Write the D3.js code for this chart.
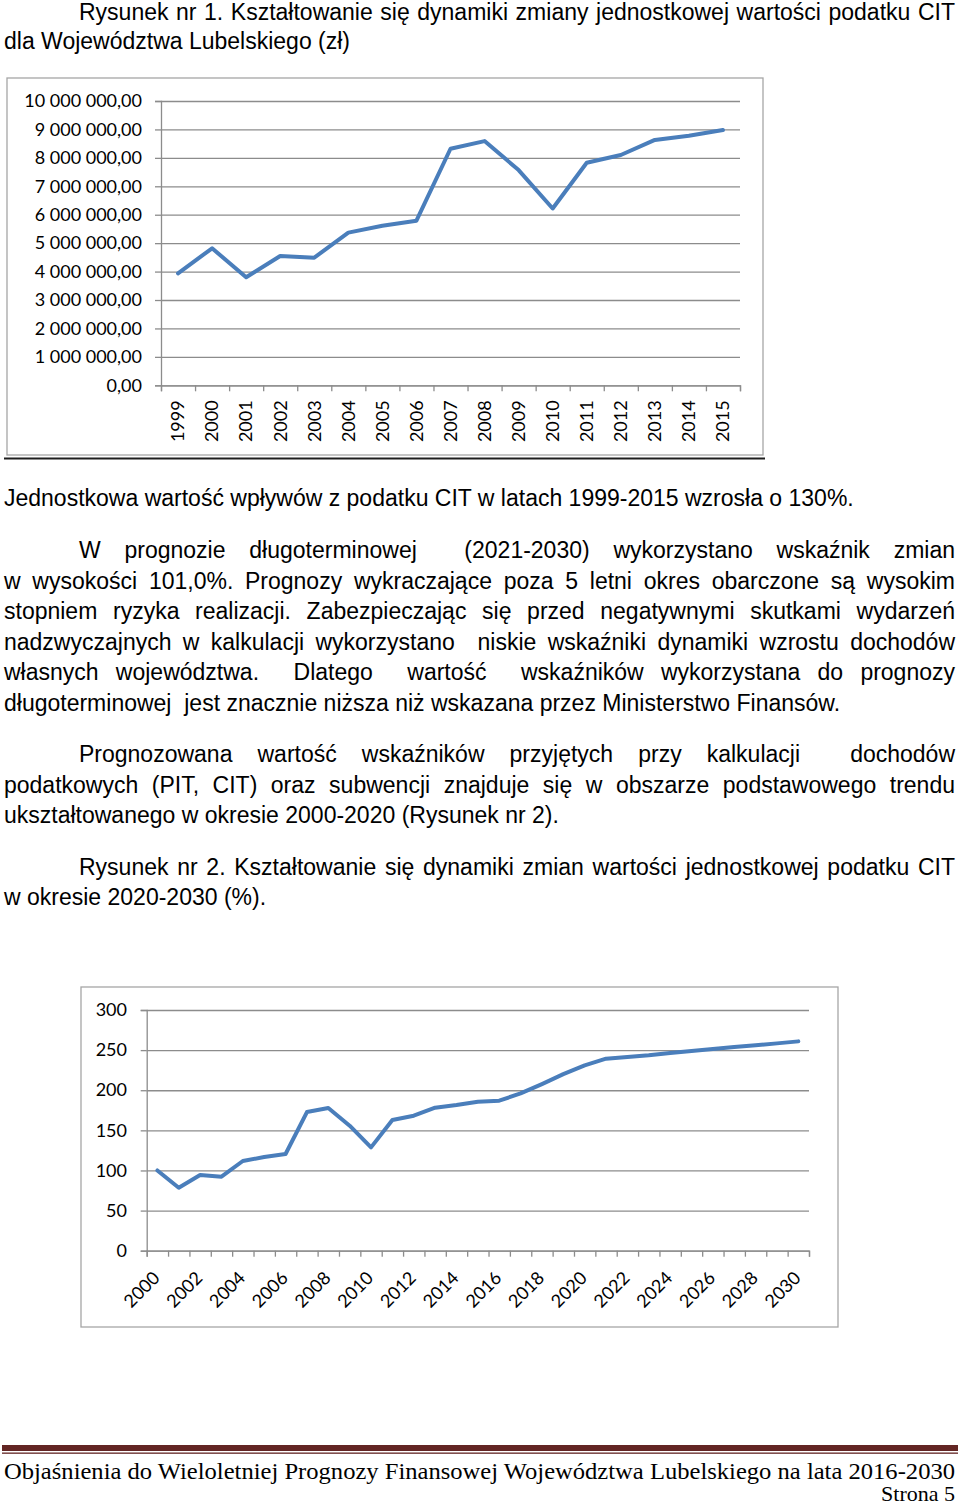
<!DOCTYPE html>
<html>
<head>
<meta charset="utf-8">
<script src="https://cdn.jsdelivr.net/npm/d3@7"></script>
<style>
    body { margin: 0; background: #fff; }
    .body-text { font-family: "Liberation Sans", Arial, sans-serif; font-size: 23px; fill: #000; }
    .axis-label { font-family: Lato, "Open Sans", sans-serif; fill: #000; }
</style>
</head>
<body>
<div id="page"></div>
<script>
// Rysunek nr 1 - jednostkowa wartosc podatku CIT (zl)
var cit1Years = ["1999", "2000", "2001", "2002", "2003", "2004", "2005", "2006", "2007",
    "2008", "2009", "2010", "2011", "2012", "2013", "2014", "2015"];
var cit1Values = [3940000, 4820000, 3800000, 4550000, 4490000, 5370000, 5610000, 5790000, 8320000,
    8590000, 7570000, 6220000, 7830000, 8100000, 8630000, 8780000, 8980000];
var cit1Ticks = [0, 1000000, 2000000, 3000000, 4000000, 5000000, 6000000, 7000000, 8000000, 9000000, 10000000];

// Rysunek nr 2 - dynamika (%)
var dynYears = ["2000", "2001", "2002", "2003", "2004", "2005", "2006", "2007", "2008", "2009",
    "2010", "2011", "2012", "2013", "2014", "2015", "2016", "2017", "2018", "2019", "2020",
    "2021", "2022", "2023", "2024", "2025", "2026", "2027", "2028", "2029", "2030"];
var dynValues = [100, 78.5, 94.3, 92.2, 111.8, 116.7, 120.5, 172.8, 177.8, 155.8,
    128.8, 162.9, 168.3, 178.2, 181.6, 185.7, 187, 196, 207.7, 220, 231,
    239.3, 241.4, 243.5, 246.4, 248.9, 251.4, 253.8, 256, 258.4, 260.9];
var dynTicks = [0, 50, 100, 150, 200, 250, 300];
var dynLabelYears = ["2000", "2002", "2004", "2006", "2008", "2010", "2012", "2014", "2016",
    "2018", "2020", "2022", "2024", "2026", "2028", "2030"];

// text of the page, one entry per printed line: [text, indent, justified, baseline]
var textLines = [
    ["Rysunek nr 1. Kształtowanie się dynamiki zmiany jednostkowej wartości podatku CIT", true, true, 20],
    ["dla Województwa Lubelskiego (zł)", false, false, 49],
    ["Jednostkowa wartość wpływów z podatku CIT w latach 1999-2015 wzrosła o 130%.", false, false, 506],
    ["W prognozie długoterminowej  (2021-2030) wykorzystano wskaźnik zmian", true, true, 558],
    ["w wysokości 101,0%. Prognozy wykraczające poza 5 letni okres obarczone są wysokim", false, true, 589],
    ["stopniem ryzyka realizacji. Zabezpieczając się przed negatywnymi skutkami wydarzeń", false, true, 619],
    ["nadzwyczajnych w kalkulacji wykorzystano  niskie wskaźniki dynamiki wzrostu dochodów", false, true, 650],
    ["własnych województwa.  Dlatego  wartość  wskaźników wykorzystana do prognozy", false, true, 680],
    ["długoterminowej  jest znacznie niższa niż wskazana przez Ministerstwo Finansów.", false, false, 711],
    ["Prognozowana wartość wskaźników przyjętych przy kalkulacji  dochodów", true, true, 762],
    ["podatkowych (PIT, CIT) oraz subwencji znajduje się w obszarze podstawowego trendu", false, true, 793],
    ["ukształtowanego w okresie 2000-2020 (Rysunek nr 2).", false, false, 823],
    ["Rysunek nr 2. Kształtowanie się dynamiki zmian wartości jednostkowej podatku CIT", true, true, 875],
    ["w okresie 2020-2030 (%).", false, false, 905]
];
var footerTitle = "Objaśnienia do Wieloletniej Prognozy Finansowej Województwa Lubelskiego na lata 2016-2030";
var footerPage = "Strona 5";

var svgWidth = 960;
var svgHeight = 1507;
var lineColor = "#4a7ebb";
var gridColor = "#8c8c8c";

var svg = d3.select("#page")
    .append("svg")
    .attr("width", svgWidth)
    .attr("height", svgHeight);

svg.append("rect")
    .attr("width", svgWidth)
    .attr("height", svgHeight)
    .attr("fill", "#fff");

// Step 1: page text (justified lines are spread word by word)
// ==============================
var textGroup = svg.append("g").attr("class", "body-text");

function drawLine(str, indent, justify, y) {
    var x0 = indent ? 79 : 4;
    var x1 = 955;
    if (!justify) {
        textGroup.append("text")
            .attr("x", x0)
            .attr("y", y)
            .attr("xml:space", "preserve")
            .style("white-space", "pre")
            .text(str);
        return;
    }
    var tokens = str.split(" ");
    var measure = textGroup.append("text");
    var widths = tokens.map(function (t) {
        if (!t) return 0;
        measure.text(t);
        return measure.node().getComputedTextLength();
    });
    measure.remove();
    var gap = (x1 - x0 - d3.sum(widths)) / (tokens.length - 1);
    var line = textGroup.append("text").attr("y", y);
    var cx = x0;
    tokens.forEach(function (t, i) {
        if (t) line.append("tspan").attr("x", cx).text(t);
        cx += widths[i] + gap;
    });
}

textLines.forEach(function (d) {
    drawLine(d[0], d[1], d[2], d[3]);
});

// Step 2: generic line chart (Excel look)
// ==============================
function makeChart(opts) {
    var g = svg.append("g");

    // chart frame
    g.append("rect")
        .attr("x", opts.frame[0])
        .attr("y", opts.frame[1])
        .attr("width", opts.frame[2])
        .attr("height", opts.frame[3])
        .attr("fill", "#fff")
        .attr("stroke", "#a6a6a6")
        .attr("stroke-width", 1.3);

    var xScale = d3.scaleBand()
        .domain(opts.years)
        .range([opts.left, opts.right]);

    // boundaries of categories, for tick marks
    var xEdges = d3.scaleLinear()
        .domain([0, opts.years.length])
        .range([opts.left, opts.right]);

    var yScale = d3.scaleLinear()
        .domain([0, opts.ticks[opts.ticks.length - 1]])
        .range([opts.bottom, opts.top]);

    // gridlines
    var grid = g.append("g")
        .attr("transform", `translate(${opts.left}, 0)`)
        .call(d3.axisLeft(yScale)
            .tickValues(opts.ticks)
            .tickSize(-(opts.right - opts.left))
            .tickFormat(""));
    grid.select(".domain").remove();
    grid.selectAll("line").attr("stroke", gridColor).attr("stroke-width", 1.3);

    // y axis with labels
    var yAxis = g.append("g")
        .attr("transform", `translate(${opts.left}, 0)`)
        .call(d3.axisLeft(yScale)
            .tickValues(opts.ticks)
            .tickSize(6)
            .tickPadding(opts.yPad)
            .tickFormat(opts.yFormat));
    yAxis.select(".domain").attr("stroke", gridColor).attr("stroke-width", 1.3);
    yAxis.selectAll("line").attr("stroke", gridColor).attr("stroke-width", 1.3);
    yAxis.selectAll("text")
        .attr("class", "axis-label")
        .style("font-size", opts.fontSize + "px")
        .attr("fill", "#000");
    yAxis.attr("font-family", null).attr("font-size", null);

    // x axis tick marks at category edges
    var xTicks = g.append("g")
        .attr("transform", `translate(0, ${opts.bottom})`)
        .call(d3.axisBottom(xEdges)
            .tickValues(d3.range(opts.years.length + 1))
            .tickSize(6)
            .tickFormat(""));
    xTicks.select(".domain").attr("stroke", gridColor).attr("stroke-width", 1.3);
    xTicks.selectAll("line").attr("stroke", gridColor).attr("stroke-width", 1.3);

    // x labels
    var xLabels = g.append("g")
        .attr("transform", `translate(0, ${opts.bottom})`)
        .call(d3.axisBottom(xScale)
            .tickValues(opts.labelYears)
            .tickSize(0));
    xLabels.select(".domain").remove();
    xLabels.attr("font-family", null).attr("font-size", null);
    xLabels.selectAll("text")
        .attr("class", "axis-label")
        .style("font-size", opts.fontSize + "px")
        .attr("fill", "#000")
        .attr("x", 0)
        .attr("y", 0)
        .attr("dy", "0.35em")
        .style("text-anchor", "end")
        .attr("transform", opts.labelTransform);

    // data line
    var line = d3.line()
        .x(function (d, i) { return xScale(opts.years[i]) + xScale.bandwidth() / 2; })
        .y(function (d) { return yScale(d); });

    g.append("path")
        .datum(opts.values)
        .attr("d", line)
        .attr("fill", "none")
        .attr("stroke", lineColor)
        .attr("stroke-width", 4)
        .attr("stroke-linejoin", "round")
        .attr("stroke-linecap", "round");
}

var plFormat = d3.formatLocale({ decimal: ",", thousands: " ", grouping: [3], currency: ["", ""] });

makeChart({
    frame: [7, 78, 756, 377],
    left: 161, right: 740, top: 101, bottom: 385.3,
    years: cit1Years,
    values: cit1Values,
    ticks: cit1Ticks,
    labelYears: cit1Years,
    yFormat: plFormat.format(",.2f"),
    yPad: 13,
    fontSize: 18,
    labelTransform: "translate(0, 15) rotate(-90)"
});

// dark paragraph rule under the first chart
svg.append("line")
    .attr("x1", 4).attr("x2", 765)
    .attr("y1", 458.5).attr("y2", 458.5)
    .attr("stroke", "#1e1e1e")
    .attr("stroke-width", 2);

makeChart({
    frame: [81, 987, 757, 340],
    left: 146.7, right: 809, top: 1010, bottom: 1250.7,
    years: dynYears,
    values: dynValues,
    ticks: dynTicks,
    labelYears: dynLabelYears,
    yFormat: d3.format("d"),
    yPad: 13.7,
    fontSize: 18,
    labelTransform: "translate(-1, 24) rotate(-45)"
});

// Step 3: footer
// ==============================
svg.append("rect")
    .attr("x", 2).attr("y", 1445)
    .attr("width", 956).attr("height", 6)
    .attr("fill", "#632523");
svg.append("rect")
    .attr("x", 2).attr("y", 1452.5)
    .attr("width", 956).attr("height", 1.3)
    .attr("fill", "#632523");

svg.append("text")
    .attr("x", 4)
    .attr("y", 1479)
    .attr("textLength", 951)
    .attr("lengthAdjust", "spacingAndGlyphs")
    .style("font-family", "'Liberation Serif', serif")
    .style("font-size", "23px")
    .attr("fill", "#000")
    .text(footerTitle);

svg.append("text")
    .attr("x", 955)
    .attr("y", 1501)
    .style("text-anchor", "end")
    .style("font-family", "'Liberation Serif', serif")
    .style("font-size", "22px")
    .attr("fill", "#000")
    .text(footerPage);
</script>
</body>
</html>
